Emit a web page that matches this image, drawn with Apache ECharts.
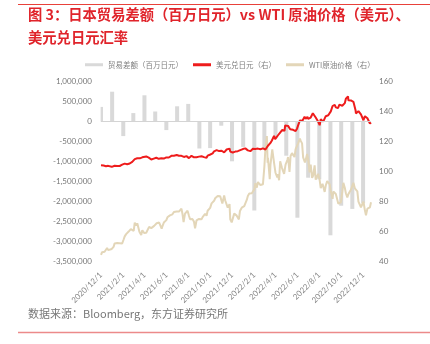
<!DOCTYPE html>
<html><head><meta charset="utf-8">
<script src="https://cdn.jsdelivr.net/npm/echarts@6/dist/echarts.min.js"></script>
<style>html,body{margin:0;padding:0;background:#fff}#c{width:430px;height:344px}</style>
</head><body><div id="c"></div>
<script>
// Monthly trade balance (million JPY), plotted at first day of month
const tradeMonths = ['2020-12-01','2021-01-01','2021-02-01','2021-03-01','2021-04-01','2021-05-01','2021-06-01','2021-07-01','2021-08-01','2021-09-01','2021-10-01','2021-11-01','2021-12-01','2022-01-01','2022-02-01','2022-03-01','2022-04-01','2022-05-01','2022-06-01','2022-07-01','2022-08-01','2022-09-01','2022-10-01','2022-11-01','2022-12-01'];
const tradeValues = [370000,750000,-360000,215000,660000,255000,-210000,385000,445000,-670000,-660000,-100000,-990000,-630000,-2220000,-680000,-420000,-850000,-2400000,-1400000,-1440000,-2840000,-2100000,-2180000,-2040000];

// USD/JPY (right axis)
const fxDates = ['2020-12-01','2020-12-04','2020-12-08','2020-12-11','2020-12-15','2020-12-17','2020-12-21','2020-12-24','2020-12-31','2021-01-05','2021-01-06','2021-01-08','2021-01-12','2021-01-15','2021-01-19','2021-01-22','2021-01-26','2021-01-29','2021-02-02','2021-02-05','2021-02-09','2021-02-12','2021-02-16','2021-02-19','2021-02-23','2021-02-26','2021-03-02','2021-03-05','2021-03-09','2021-03-12','2021-03-16','2021-03-19','2021-03-23','2021-03-26','2021-03-31','2021-04-06','2021-04-09','2021-04-13','2021-04-16','2021-04-20','2021-04-23','2021-04-27','2021-04-30','2021-05-04','2021-05-07','2021-05-11','2021-05-14','2021-05-18','2021-05-21','2021-05-25','2021-05-28','2021-06-01','2021-06-04','2021-06-08','2021-06-11','2021-06-16','2021-06-18','2021-06-22','2021-06-25','2021-06-30','2021-07-02','2021-07-06','2021-07-09','2021-07-13','2021-07-16','2021-07-20','2021-07-23','2021-07-27','2021-07-30','2021-08-03','2021-08-06','2021-08-10','2021-08-13','2021-08-17','2021-08-20','2021-08-24','2021-08-27','2021-08-31','2021-09-03','2021-09-07','2021-09-10','2021-09-14','2021-09-17','2021-09-21','2021-09-24','2021-09-28','2021-09-30','2021-10-05','2021-10-08','2021-10-12','2021-10-15','2021-10-19','2021-10-22','2021-10-26','2021-10-29','2021-11-02','2021-11-05','2021-11-09','2021-11-12','2021-11-16','2021-11-19','2021-11-24','2021-11-26','2021-11-30','2021-12-03','2021-12-07','2021-12-10','2021-12-14','2021-12-17','2021-12-21','2021-12-24','2021-12-28','2021-12-31','2022-01-04','2022-01-07','2022-01-11','2022-01-14','2022-01-18','2022-01-21','2022-01-25','2022-01-28','2022-02-01','2022-02-04','2022-02-08','2022-02-11','2022-02-15','2022-02-18','2022-02-22','2022-02-25','2022-03-01','2022-03-04','2022-03-08','2022-03-11','2022-03-15','2022-03-18','2022-03-22','2022-03-25','2022-03-28','2022-03-31','2022-04-04','2022-04-08','2022-04-12','2022-04-15','2022-04-20','2022-04-22','2022-04-26','2022-04-28','2022-05-03','2022-05-06','2022-05-09','2022-05-12','2022-05-16','2022-05-20','2022-05-24','2022-05-27','2022-05-31','2022-06-03','2022-06-08','2022-06-10','2022-06-13','2022-06-15','2022-06-17','2022-06-21','2022-06-24','2022-06-29','2022-07-01','2022-07-05','2022-07-08','2022-07-14','2022-07-15','2022-07-19','2022-07-22','2022-07-26','2022-07-29','2022-08-02','2022-08-05','2022-08-09','2022-08-12','2022-08-16','2022-08-19','2022-08-23','2022-08-26','2022-08-30','2022-09-02','2022-09-07','2022-09-09','2022-09-13','2022-09-16','2022-09-21','2022-09-22','2022-09-26','2022-09-30','2022-10-04','2022-10-07','2022-10-11','2022-10-14','2022-10-18','2022-10-20','2022-10-21','2022-10-25','2022-10-28','2022-11-01','2022-11-04','2022-11-08','2022-11-10','2022-11-11','2022-11-15','2022-11-18','2022-11-22','2022-11-25','2022-11-29','2022-12-02','2022-12-06','2022-12-09','2022-12-13','2022-12-16','2022-12-20','2022-12-23'];
const fxValues = [104.3,104.15,104.1,104.0,103.65,103.1,103.9,103.6,103.25,103.1,102.7,103.95,104.2,103.85,103.9,103.8,103.65,104.7,105.0,105.4,104.6,104.95,106.0,105.45,105.3,106.55,106.7,108.35,108.55,109.0,109.1,108.9,108.6,109.6,110.7,110.2,109.65,109.4,108.8,108.1,107.9,108.7,109.3,109.3,108.6,108.6,109.35,108.9,108.95,108.75,109.85,109.5,109.5,109.45,109.65,110.7,110.2,110.65,110.75,111.1,111.05,110.6,110.15,110.6,110.1,109.85,110.55,110.4,109.7,109.05,110.25,110.6,109.6,109.6,109.8,109.7,109.85,110.05,109.7,110.3,109.9,109.7,109.95,109.2,110.7,111.5,111.3,111.45,112.2,113.6,114.2,114.35,113.5,113.75,114.0,113.95,113.4,112.9,113.9,114.8,114.0,115.4,113.4,113.15,112.8,113.5,113.4,113.6,113.7,114.1,114.4,114.85,115.1,116.1,115.55,115.3,114.2,114.6,113.7,113.9,115.25,114.6,115.2,115.55,115.4,115.6,114.95,115.1,115.55,114.9,114.8,115.7,117.3,118.3,119.2,120.8,122.05,123.9,121.7,122.8,124.3,125.4,126.4,127.9,128.5,127.2,130.8,130.1,130.55,130.9,128.3,129.1,127.9,126.9,127.1,128.7,130.9,134.2,134.4,134.4,134.0,135.0,136.6,135.2,136.6,135.2,135.9,136.1,139.0,138.6,138.2,136.1,136.9,133.25,131.0,135.0,135.1,133.4,134.2,137.0,136.8,137.6,138.7,140.2,143.8,142.6,144.6,142.9,144.1,142.4,144.7,144.7,144.0,145.3,145.7,148.7,149.2,150.2,147.6,148.0,147.5,148.2,146.6,145.6,141.0,138.8,139.3,140.4,141.2,138.2,138.5,134.3,137.0,136.6,135.6,136.7,132.1,132.8];

// WTI crude (USD, right axis)
const oilDates = ['2020-12-01','2020-12-04','2020-12-08','2020-12-11','2020-12-15','2020-12-18','2020-12-21','2020-12-24','2020-12-31','2021-01-05','2021-01-08','2021-01-12','2021-01-15','2021-01-19','2021-01-22','2021-01-26','2021-01-29','2021-02-02','2021-02-05','2021-02-09','2021-02-12','2021-02-16','2021-02-19','2021-02-22','2021-02-26','2021-03-02','2021-03-05','2021-03-09','2021-03-12','2021-03-16','2021-03-18','2021-03-23','2021-03-26','2021-03-31','2021-04-06','2021-04-09','2021-04-14','2021-04-16','2021-04-20','2021-04-23','2021-04-28','2021-04-30','2021-05-05','2021-05-07','2021-05-12','2021-05-14','2021-05-19','2021-05-21','2021-05-25','2021-05-28','2021-06-01','2021-06-04','2021-06-08','2021-06-11','2021-06-16','2021-06-18','2021-06-22','2021-06-25','2021-06-30','2021-07-06','2021-07-09','2021-07-13','2021-07-16','2021-07-19','2021-07-23','2021-07-27','2021-07-30','2021-08-03','2021-08-06','2021-08-10','2021-08-13','2021-08-17','2021-08-20','2021-08-24','2021-08-27','2021-08-31','2021-09-03','2021-09-07','2021-09-10','2021-09-14','2021-09-17','2021-09-21','2021-09-24','2021-09-28','2021-10-01','2021-10-05','2021-10-08','2021-10-12','2021-10-15','2021-10-19','2021-10-22','2021-10-26','2021-10-29','2021-11-02','2021-11-04','2021-11-09','2021-11-12','2021-11-16','2021-11-19','2021-11-24','2021-11-26','2021-11-30','2021-12-01','2021-12-03','2021-12-07','2021-12-10','2021-12-14','2021-12-17','2021-12-20','2021-12-23','2021-12-28','2021-12-31','2022-01-04','2022-01-07','2022-01-11','2022-01-14','2022-01-18','2022-01-21','2022-01-25','2022-01-28','2022-02-01','2022-02-04','2022-02-08','2022-02-11','2022-02-15','2022-02-18','2022-02-22','2022-02-25','2022-03-01','2022-03-04','2022-03-08','2022-03-10','2022-03-11','2022-03-16','2022-03-18','2022-03-23','2022-03-25','2022-03-29','2022-04-01','2022-04-06','2022-04-08','2022-04-11','2022-04-14','2022-04-19','2022-04-22','2022-04-25','2022-04-29','2022-05-04','2022-05-06','2022-05-10','2022-05-13','2022-05-17','2022-05-20','2022-05-24','2022-05-27','2022-05-31','2022-06-03','2022-06-08','2022-06-10','2022-06-14','2022-06-17','2022-06-22','2022-06-24','2022-06-28','2022-07-01','2022-07-05','2022-07-08','2022-07-12','2022-07-15','2022-07-19','2022-07-22','2022-07-26','2022-07-29','2022-08-02','2022-08-05','2022-08-10','2022-08-12','2022-08-16','2022-08-19','2022-08-23','2022-08-26','2022-08-30','2022-09-02','2022-09-07','2022-09-09','2022-09-13','2022-09-16','2022-09-20','2022-09-23','2022-09-27','2022-09-30','2022-10-04','2022-10-07','2022-10-11','2022-10-14','2022-10-18','2022-10-21','2022-10-25','2022-10-28','2022-11-01','2022-11-04','2022-11-08','2022-11-11','2022-11-15','2022-11-18','2022-11-22','2022-11-25','2022-11-28','2022-12-02','2022-12-06','2022-12-09','2022-12-13','2022-12-16','2022-12-20','2022-12-23'];
const oilValues = [44.6,46.3,45.6,46.6,47.6,49.1,47.7,48.2,48.5,49.9,52.2,53.2,52.4,53.0,52.3,52.6,52.2,54.8,56.9,58.4,59.5,60.1,59.2,61.7,61.5,60.6,66.1,64.0,65.6,64.8,60.0,57.8,61.0,59.2,59.3,59.3,63.2,63.1,62.4,62.1,63.9,63.6,65.6,64.9,66.1,65.4,62.0,63.6,66.1,66.3,67.7,69.6,70.1,70.9,72.2,71.6,73.1,74.05,73.5,73.4,74.6,75.3,71.8,66.4,72.1,71.65,73.95,70.6,68.3,68.3,68.4,66.6,62.3,67.5,68.7,68.5,69.3,68.35,69.7,70.5,71.97,70.6,73.98,75.3,75.9,78.9,79.35,80.6,82.3,82.96,83.8,84.65,83.6,83.9,78.8,84.15,80.8,80.8,76.1,78.4,68.2,66.2,65.6,66.3,72.05,71.7,70.7,70.9,68.2,73.8,75.98,75.2,76.99,78.9,81.2,83.8,85.4,85.1,85.6,86.8,88.2,92.3,89.4,93.1,92.1,91.1,92.4,91.6,103.4,115.7,123.7,106.0,109.3,95.0,104.7,114.9,113.9,104.2,99.3,96.2,98.3,94.3,106.95,102.6,102.1,98.5,104.7,107.8,109.8,99.8,110.5,112.4,113.2,109.8,115.1,114.7,118.9,122.1,120.7,118.9,109.6,106.2,107.6,111.8,108.4,99.5,104.8,95.8,97.6,104.2,94.7,94.98,98.6,94.4,89.0,91.9,92.1,86.5,90.8,93.7,93.1,91.6,86.9,81.9,86.8,87.3,85.1,84.45,78.7,78.5,79.5,86.5,92.6,89.35,85.6,82.8,85.05,85.3,87.9,88.4,92.6,88.9,89.0,86.9,80.1,80.95,76.3,77.2,80.0,74.25,71.0,75.4,74.3,76.2,79.6];

const leftTicks = {min:-3500000, max:1000000, interval:500000};
const rightTicks = {min:40, max:160, interval:20};

const toCat = s => s.split('-').map(Number).join('/');
const days = [];
for (let t = Date.UTC(2020,11,1); t <= Date.UTC(2022,11,23); t += 86400000) {
  const d = new Date(t);
  days.push(d.getUTCFullYear()+'/'+(d.getUTCMonth()+1)+'/'+d.getUTCDate());
}
const pair = (ds, vs) => ds.map((d,i)=>[toCat(d), vs[i]]);

const chart = echarts.init(document.getElementById('c'), null, {renderer:'canvas'});
const numFont = 'Lato';
chart.setOption({
  animation:false,
  textStyle:{fontFamily:'"Noto Sans CJK SC", sans-serif'},
  grid:{left:101, right:59, top:81.7, bottom:82.3, containLabel:false},
  legend:{
    left:80, top:56, icon:'rect', itemWidth:18, itemHeight:3, itemGap:10,
    textStyle:{fontSize:7.5, color:'#808080', fontFamily:'"Noto Sans CJK SC", sans-serif'},
    data:['贸易差额（百万日元）','美元兑日元（右）','WTI原油价格（右）']
  },
  xAxis:{
    type:'category', data:days, boundaryGap:false,
    axisLine:{show:false}, axisTick:{show:false}, splitLine:{show:false},
    axisLabel:{
      interval:(i,v)=>{const p=v.split('/').map(Number);return p[2]===1 && p[1]%2===0;},
      rotate:45, fontSize:8, color:'#888', margin:12, fontFamily:numFont
    }
  },
  yAxis:[
    {type:'value', min:leftTicks.min, max:leftTicks.max, interval:leftTicks.interval,
     axisLine:{show:false}, axisTick:{show:false}, splitLine:{show:false},
     axisLabel:{fontSize:8, color:'#777', margin:9, fontFamily:numFont,
       formatter:v=>v.toLocaleString('en-US')}},
    {type:'value', min:rightTicks.min, max:rightTicks.max, interval:rightTicks.interval,
     axisLine:{show:false}, axisTick:{show:false}, splitLine:{show:false},
     axisLabel:{fontSize:8, color:'#777', margin:8, fontFamily:numFont}}
  ],
  series:[
    {name:'贸易差额（百万日元）', type:'bar', yAxisIndex:0, barWidth:4,
     itemStyle:{color:'#d9d9d9'}, data:pair(tradeMonths, tradeValues), z:1,
     markLine:{silent:true, symbol:'none', label:{show:false},
       lineStyle:{color:'#d4d4d4', type:'solid', width:1}, data:[{yAxis:0}]}},
    {name:'美元兑日元（右）', type:'line', yAxisIndex:1, symbol:'none', z:4,
     lineStyle:{color:'#ee1c1c', width:2}, itemStyle:{color:'#ee1c1c'},
     data:pair(fxDates, fxValues)},
    {name:'WTI原油价格（右）', type:'line', yAxisIndex:1, symbol:'none', z:3,
     lineStyle:{color:'#e3d6b8', width:2}, itemStyle:{color:'#e3d6b8'},
     data:pair(oilDates, oilValues)}
  ],
  graphic:[
    {type:'line', shape:{x1:18,y1:4.5,x2:430,y2:4.5}, style:{stroke:'#e8413a', lineWidth:1}},
    {type:'text', left:28, top:7.5, style:{text:'图 3：日本贸易差额（百万日元）vs WTI 原油价格（美元）、', fill:'#e0242b', font:'bold 14.3px "Noto Sans CJK SC"'}},
    {type:'text', left:28, top:30.5, style:{text:'美元兑日元汇率', fill:'#e0242b', font:'bold 14.3px "Noto Sans CJK SC"'}},
    {type:'text', left:28, top:308, style:{text:'数据来源：Bloomberg，东方证券研究所', fill:'#777', font:'11px "Noto Sans CJK SC"'}},
    {type:'line', shape:{x1:18,y1:332.5,x2:430,y2:332.5}, style:{stroke:'#ec8a8a', lineWidth:1.5}}
  ]
});
</script></body></html>
